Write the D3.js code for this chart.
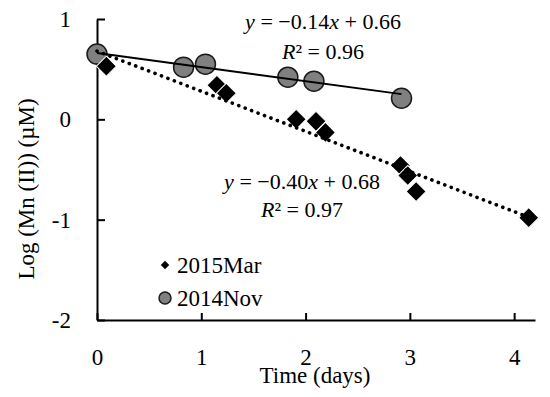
<!DOCTYPE html>
<html>
<head>
<meta charset="utf-8">
<script src="https://cdn.jsdelivr.net/npm/d3@7"></script>
<style>
  body { margin: 0; background: #fff; }
  svg text { font-family: 'Palatino Linotype', 'Book Antiqua', Palatino, 'Liberation Serif', serif; fill: #000; }
</style>
</head>
<body>
<div id="mainDiv"></div>
<script>
'use strict';

// 2014Nov series (circles)
var novDays   = [0.00, 0.83, 1.04, 1.83, 2.08, 2.92];
var novLogMn  = [0.65, 0.52, 0.55, 0.42, 0.38, 0.21];

// 2015Mar series (diamonds)
var marDays   = [0.09, 1.15, 1.24, 1.91, 2.10, 2.19, 2.91, 2.98, 3.06, 4.14];
var marLogMn  = [0.53, 0.34, 0.26, 0.00, -0.02, -0.13, -0.46, -0.56, -0.72, -0.98];

// linear fits as printed on the chart
var fitNames      = ['2014Nov', '2015Mar'];
var fitSlopes     = [-0.14, -0.40];
var fitIntercepts = [0.66, 0.68];
var fitR2         = ['0.96', '0.97'];

var xTicks = [0, 1, 2, 3, 4];
var yTicks = [-2, -1, 0, 1];

var chart = {};
chart.width = 550;
chart.height = 397;
chart.margin = {top: 19, right: 15, bottom: 77, left: 97};
chart.fontSize = '23px';

chart.x = d3.scaleLinear().domain([0, 4.2]).range([chart.margin.left, chart.width - chart.margin.right]);
chart.y = d3.scaleLinear().domain([-2, 1]).range([chart.height - chart.margin.bottom, chart.margin.top]);

chart.start = function () {
    var svg = d3.select('#mainDiv').append('svg')
        .attr('width', chart.width)
        .attr('height', chart.height);

    var x = chart.x, y = chart.y;

    // axes
    var xAxis = svg.append('g')
        .attr('transform', 'translate(0,' + y(-2) + ')')
        .call(d3.axisBottom(x).tickValues(xTicks).tickFormat(String).tickSizeInner(-7).tickSizeOuter(0).tickPadding(29));
    var yAxis = svg.append('g')
        .attr('transform', 'translate(' + x(0) + ',0)')
        .call(d3.axisLeft(y).tickValues(yTicks).tickFormat(String).tickSizeInner(-8).tickSizeOuter(0).tickPadding(26));

    [xAxis, yAxis].forEach(function (g) {
        g.attr('font-family', null).attr('font-size', null);
        g.selectAll('path, line').attr('stroke', '#000').attr('stroke-width', 2);
        g.selectAll('text').style('font-size', chart.fontSize);
    });

    // axis titles
    svg.append('text')
        .attr('x', 315).attr('y', 383)
        .attr('text-anchor', 'middle')
        .style('font-size', chart.fontSize)
        .text('Time (days)');
    svg.append('text')
        .attr('transform', 'translate(34,189) rotate(-90)')
        .attr('text-anchor', 'middle')
        .style('font-size', chart.fontSize)
        .text('Log (Mn (II)) (\u00b5M)');

    var nov = novDays.map(function (d, i) { return {t: d, v: novLogMn[i]}; });
    var mar = marDays.map(function (d, i) { return {t: d, v: marLogMn[i]}; });

    // markers
    svg.append('g').selectAll('circle')
        .data(nov).enter().append('circle')
        .attr('cx', function (d) { return x(d.t); })
        .attr('cy', function (d) { return y(d.v); })
        .attr('r', 10)
        .attr('fill', '#808080')
        .attr('stroke', '#1a1a1a')
        .attr('stroke-width', 1.5);

    var diamond = d3.symbol().type(d3.symbolSquare).size(200);
    svg.append('g').selectAll('path')
        .data(mar).enter().append('path')
        .attr('d', diamond)
        .attr('transform', function (d) { return 'translate(' + x(d.t) + ',' + y(d.v) + ') rotate(45)'; })
        .attr('fill', '#000')
        .attr('stroke', '#fff')
        .attr('stroke-width', 1);

    // trend lines
    var fitEnds = [d3.max(novDays), d3.max(marDays)];
    var line = d3.line().x(function (d) { return x(d[0]); }).y(function (d) { return y(d[1]); });
    fitNames.forEach(function (name, i) {
        var pts = [0, fitEnds[i]].map(function (t) { return [t, fitSlopes[i] * t + fitIntercepts[i]]; });
        var p = svg.append('path')
            .attr('d', line(pts))
            .attr('fill', 'none')
            .attr('stroke', '#000');
        if (i === 0) {
            p.attr('stroke-width', 2);
        } else {
            p.attr('stroke-width', 3.6)
             .attr('stroke-linecap', 'round')
             .attr('stroke-dasharray', '0.1 6.8');
        }
    });

    // equations
    var eqPos = [[323, 29, 59], [302, 189, 217]];
    fitNames.forEach(function (name, i) {
        var t = svg.append('text')
            .attr('x', eqPos[i][0]).attr('y', eqPos[i][1])
            .attr('text-anchor', 'middle')
            .style('font-size', '22px');
        t.append('tspan').style('font-style', 'italic').text('y');
        t.append('tspan').text(' = \u2212' + Math.abs(fitSlopes[i]).toFixed(2));
        t.append('tspan').style('font-style', 'italic').text('x');
        t.append('tspan').text(' + ' + fitIntercepts[i].toFixed(2));

        var r = svg.append('text')
            .attr('x', eqPos[i][0]).attr('y', eqPos[i][2])
            .attr('text-anchor', 'middle')
            .style('font-size', '22px');
        r.append('tspan').style('font-style', 'italic').text('R');
        r.append('tspan').text('\u00b2 = ' + fitR2[i]);
    });

    // legend
    var legend = svg.append('g');
    legend.append('path')
        .attr('d', d3.symbol().type(d3.symbolSquare).size(36))
        .attr('transform', 'translate(165,265) rotate(45)')
        .attr('fill', '#000');
    legend.append('text')
        .attr('x', 177).attr('y', 273)
        .style('font-size', chart.fontSize)
        .text('2015Mar');
    legend.append('circle')
        .attr('cx', 165).attr('cy', 298).attr('r', 6)
        .attr('fill', '#808080')
        .attr('stroke', '#1a1a1a')
        .attr('stroke-width', 1.5);
    legend.append('text')
        .attr('x', 177).attr('y', 306)
        .style('font-size', chart.fontSize)
        .text('2014Nov');
};

window.onload = chart.start;
</script>
</body>
</html>
